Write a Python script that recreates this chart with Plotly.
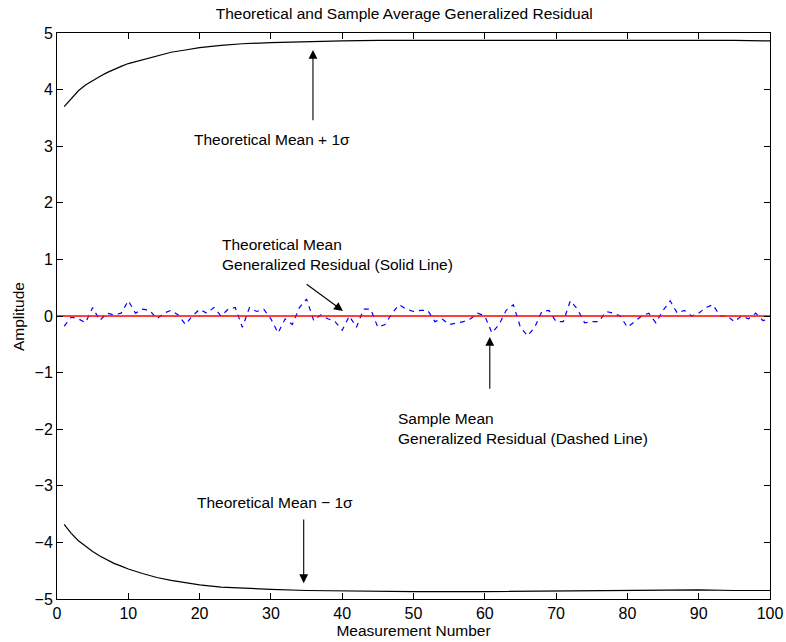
import plotly.graph_objects as go

bound_x = [1, 2, 3, 4, 5, 6, 7, 8, 9, 10, 12, 14, 16, 18, 20, 23, 26, 30, 35, 40, 45, 50, 60, 70, 80, 85, 90, 95, 100]
upper_y = [3.70, 3.85, 3.98, 4.08, 4.16, 4.23, 4.30, 4.36, 4.41, 4.46, 4.53, 4.60, 4.66, 4.70, 4.74, 4.78, 4.81, 4.83, 4.85, 4.86, 4.87, 4.87, 4.88, 4.88, 4.87, 4.88, 4.88, 4.87, 4.86]
lower_y = [-3.68, -3.84, -3.97, -4.07, -4.16, -4.24, -4.31, -4.37, -4.42, -4.47, -4.55, -4.62, -4.67, -4.71, -4.75, -4.79, -4.81, -4.83, -4.85, -4.86, -4.87, -4.87, -4.87, -4.86, -4.85, -4.84, -4.84, -4.85, -4.85]

# Theoretical mean (solid red)
mean_x = [0, 100]
mean_y = [0, 0]

# Sample mean generalized residual (dashed blue)
sample_x = list(range(1, 101))
sample_y = [-0.18, -0.02, -0.05, -0.12, 0.15, -0.08, 0.05, 0.02, 0.05, 0.27,
            0.05, 0.12, 0.10, -0.05, 0.05, 0.10, 0.02, -0.15, 0.00, 0.12,
            0.05, 0.15, 0.00, 0.12, 0.15, -0.20, 0.15, 0.08, 0.12, -0.05,
            -0.30, -0.05, -0.15, 0.15, 0.30, -0.08, 0.02, -0.05, -0.10, -0.25,
            0.00, -0.20, 0.12, 0.12, -0.20, -0.15, 0.05, 0.20, 0.12, 0.08,
            0.10, 0.10, -0.10, -0.05, -0.15, -0.12, -0.10, -0.05, 0.05, 0.00,
            -0.30, -0.15, 0.10, 0.20, -0.20, -0.35, -0.20, 0.08, 0.10, -0.10,
            -0.10, 0.27, 0.12, -0.12, -0.10, -0.10, 0.08, 0.05, 0.00, -0.20,
            -0.10, 0.00, 0.05, -0.12, 0.10, 0.27, 0.05, 0.10, 0.00, 0.05,
            0.15, 0.20, 0.00, 0.00, -0.10, 0.00, -0.05, 0.05, -0.08, -0.05]

x_ticks = [0, 10, 20, 30, 40, 50, 60, 70, 80, 90, 100]
y_ticks = [-5, -4, -3, -2, -1, 0, 1, 2, 3, 4, 5]

FONT = "Liberation Sans, Arial, Helvetica, sans-serif"
FS = 15.5
TFS = 16

fig = go.Figure()
fig.add_trace(go.Scatter(x=bound_x, y=upper_y, mode="lines",
                         line=dict(color="black", width=1.2), showlegend=False))
fig.add_trace(go.Scatter(x=bound_x, y=lower_y, mode="lines",
                         line=dict(color="black", width=1.2), showlegend=False))
fig.add_trace(go.Scatter(x=sample_x, y=sample_y, mode="lines",
                         line=dict(color="blue", width=1.2, dash="5px,5px"), showlegend=False))
fig.add_trace(go.Scatter(x=mean_x, y=mean_y, mode="lines",
                         line=dict(color="red", width=1.5), showlegend=False))

def arrow(tip_x, tip_y, tail_x, tail_y):
    fig.add_annotation(x=tip_x, y=tip_y, ax=tail_x, ay=tail_y,
                       xref="x", yref="y", axref="x", ayref="y",
                       text="", showarrow=True, arrowhead=2, arrowsize=1.6,
                       arrowwidth=1.1, arrowcolor="black")

def label(x, y, text, xanchor="center"):
    fig.add_annotation(x=x, y=y, xref="x", yref="y", text=text, showarrow=False,
                       xanchor=xanchor, yanchor="middle", align="left",
                       font=dict(family=FONT, size=FS, color="black"))

arrow(35.9, 4.70, 35.9, 3.43)
label(30.2, 3.11, "Theoretical Mean + 1σ")

arrow(40.1, 0.09, 34.8, 0.58)
label(22.8, 1.09, "Theoretical Mean<br>Generalized Residual (Solid Line)", xanchor="left")

arrow(60.7, -0.37, 60.7, -1.31)
label(47.5, -1.98, "Sample Mean<br>Generalized Residual (Dashed Line)", xanchor="left")

arrow(34.6, -4.72, 34.6, -3.57)
label(30.6, -3.29, "Theoretical Mean − 1σ")

# y-axis title placed as rotated text
fig.add_annotation(x=-0.0547, y=0.5, xref="paper", yref="paper", text="Amplitude",
                   textangle=-90, showarrow=False, xanchor="center", yanchor="middle",
                   font=dict(family=FONT, size=FS, color="black"))

axis_common = dict(showgrid=False, zeroline=False, showline=True, linecolor="black",
                   linewidth=1, mirror="ticks", ticks="inside", ticklen=6,
                   tickcolor="black", automargin=False,
                   tickfont=dict(family=FONT, size=TFS, color="black"))

fig.update_layout(
    width=786, height=642,
    margin=dict(l=57, r=16, t=33, b=43),
    paper_bgcolor="white", plot_bgcolor="white",
    title=dict(text="Theoretical and Sample Average Generalized Residual",
               xref="paper", x=0.487, xanchor="center", y=0.979, yanchor="middle",
               font=dict(family=FONT, size=FS, color="black")),
    xaxis=dict(range=[0, 100], tickvals=x_ticks,
               title=dict(text="Measurement Number", standoff=0,
                          font=dict(family=FONT, size=FS, color="black")),
               **axis_common),
    yaxis=dict(range=[-5, 5], tickvals=y_ticks, **axis_common),
)

fig.write_html("out.html", config={"displayModeBar": False},
               post_script="document.body.style.margin='0';document.body.style.overflow='hidden';")
